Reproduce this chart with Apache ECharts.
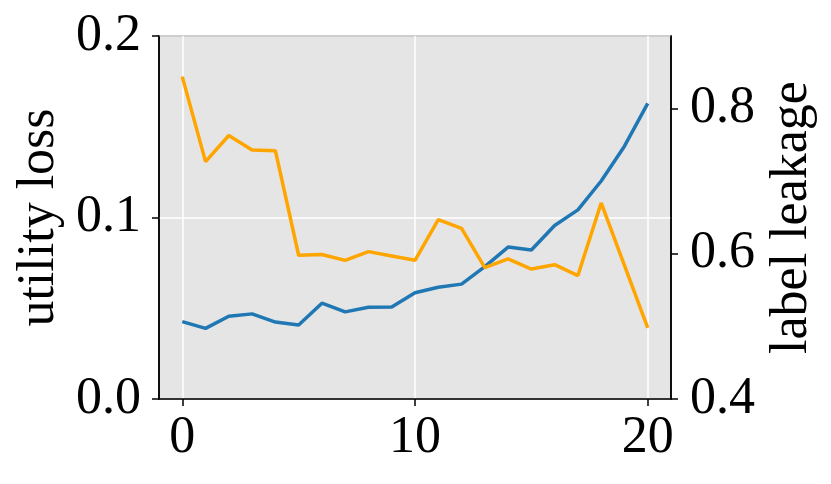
<!DOCTYPE html>
<html>
<head>
<meta charset="utf-8">
<script src="https://cdn.jsdelivr.net/npm/echarts@6/dist/echarts.min.js"></script>
<style>html,body{margin:0;padding:0;background:#fff}#c{width:831px;height:484px}</style>
</head>
<body>
<div id="c"></div>
<script>
var steps = [0,1,2,3,4,5,6,7,8,9,10,11,12,13,14,15,16,17,18,19,20];
var utilityLoss = [0.0426,0.0389,0.0456,0.0469,0.0424,0.0408,0.0528,0.0480,0.0505,0.0507,0.0585,0.0616,0.0633,0.0729,0.0837,0.0821,0.0956,0.1042,0.1201,0.1393,0.1629];
var labelLeakage = [0.844,0.727,0.763,0.743,0.742,0.598,0.599,0.591,0.603,0.597,0.591,0.647,0.635,0.581,0.593,0.579,0.585,0.570,0.670,0.584,0.498];
var xTicks = [0,10,20];
var leftTicks = [0,0.1,0.2];
var rightTicks = [0.4,0.6,0.8];

var font = 'Liberation Serif';
var fs = 52;
var chart = echarts.init(document.getElementById('c'), null, {renderer:'canvas'});
function pairs(ys){ return steps.map(function(x,i){return [x, ys[i]];}); }
chart.setOption({
  animation:false,
  grid:{left:159,right:160,top:36,bottom:85,show:true,backgroundColor:'#e5e5e5',borderColor:'#000',borderWidth:1.5},
  xAxis:{type:'value',min:-1,max:21,
    axisLine:{show:true,onZero:false,lineStyle:{color:'#000',width:1.5}},
    axisTick:{show:true,length:7,lineStyle:{color:'#000',width:1.5},customValues:xTicks},
    axisLabel:{fontFamily:font,fontSize:fs,color:'#000',margin:13,customValues:xTicks},
    splitLine:{show:true,lineStyle:{color:'#fff',width:1.5}}
  },
  yAxis:[
    {type:'value',min:0,max:0.2,position:'left',
     name:'utility loss',nameLocation:'middle',nameRotate:90,nameGap:88,
     nameTextStyle:{fontFamily:font,fontSize:fs,color:'#000'},
     axisLine:{show:true,onZero:false,lineStyle:{color:'#000',width:1.5}},
     axisTick:{show:true,length:7,lineStyle:{color:'#000',width:1.5},customValues:leftTicks},
     axisLabel:{fontFamily:font,fontSize:fs,color:'#000',margin:18,customValues:leftTicks,formatter:function(v){return v.toFixed(1);}},
     splitLine:{show:true,lineStyle:{color:'#fff',width:1.5}}
    },
    {type:'value',min:0.4,max:0.9,position:'right',
     name:'label leakage',nameLocation:'middle',nameRotate:90,nameGap:90,
     nameTextStyle:{fontFamily:font,fontSize:fs,color:'#000'},
     axisLine:{show:true,onZero:false,lineStyle:{color:'#000',width:1.5}},
     axisTick:{show:true,length:7,lineStyle:{color:'#000',width:1.5},customValues:rightTicks},
     axisLabel:{fontFamily:font,fontSize:fs,color:'#000',margin:19,customValues:rightTicks,formatter:function(v){return v.toFixed(1);}},
     splitLine:{show:false}
    }
  ],
  series:[
    {type:'line',yAxisIndex:0,data:pairs(utilityLoss),showSymbol:false,lineStyle:{color:'#1f77b4',width:3.5},itemStyle:{color:'#1f77b4'}},
    {type:'line',yAxisIndex:1,data:pairs(labelLeakage),showSymbol:false,lineStyle:{color:'#ffa500',width:3.5},itemStyle:{color:'#ffa500'}}
  ]
});
</script>
</body>
</html>
